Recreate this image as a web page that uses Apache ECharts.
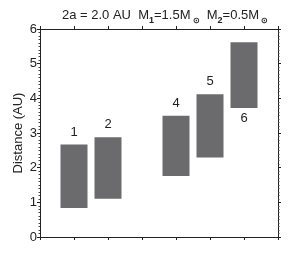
<!DOCTYPE html>
<html>
<head>
<meta charset="utf-8">
<script src="https://cdn.jsdelivr.net/npm/echarts@6/dist/echarts.min.js"></script>
<style>html,body{margin:0;padding:0;background:#fff}#c{width:307px;height:266px}</style>
</head>
<body>
<div id="c"></div>
<script>
const positions = [1, 2, 4, 5, 6];
const bottoms = [0.84, 1.10, 1.76, 2.29, 3.72];
const tops = [2.67, 2.88, 3.50, 4.12, 5.62];
const labels = ['1', '2', '4', '5', '6'];
const labelBelow = [0, 0, 0, 0, 1];
const yTicks = [0, 1, 2, 3, 4, 5, 6];

const chart = echarts.init(document.getElementById('c'), null, {renderer: 'canvas'});
const font = 'Liberation Sans, Arial, sans-serif';
const axisCommon = {
  axisLine: {show: true, onZero: false, lineStyle: {color: '#222', width: 1}},
  splitLine: {show: false}
};
const tick = {show: true, inside: false, length: 3, lineStyle: {color: '#222'}};
const minor = {show: true, splitNumber: 10, length: 1.5, lineStyle: {color: '#444'}};
chart.setOption({
  animation: false,
  title: {
    text: '{n|2a = 2.0 AU  M}{s|1}{n|=1.5M}{o|⊙}{n|  M}{s|2}{n|=0.5M}{o|⊙}',
    left: 160, top: 1, textAlign: 'center',
    textStyle: {
      rich: {
        n: {fontFamily: font, fontSize: 13, color: '#222', fontWeight: 'normal'},
        s: {fontFamily: font, fontSize: 9, color: '#222', verticalAlign: 'bottom', padding: [9, 0, 0, 0]},
        o: {fontFamily: font, fontSize: 8, color: '#222', verticalAlign: 'bottom', padding: [11, 0, 0, 2]}
      }
    }
  },
  grid: {left: 40, right: 29, top: 29, bottom: 29},
  xAxis: [{
    type: 'value', min: 0, max: 7, interval: 1, position: 'bottom',
    ...axisCommon, axisTick: tick, axisLabel: {show: false}
  }, {
    type: 'value', min: 0, max: 7, interval: 1, position: 'top',
    ...axisCommon, axisTick: tick, axisLabel: {show: false}
  }],
  yAxis: [{
    type: 'value', min: yTicks[0], max: yTicks[yTicks.length - 1], interval: 1, position: 'left',
    ...axisCommon, axisTick: tick, minorTick: minor,
    axisLabel: {show: true, fontFamily: font, fontSize: 13, color: '#222', margin: 3},
    name: 'Distance (AU)', nameLocation: 'middle', nameGap: 15, nameRotate: 90,
    nameMoveOverlap: false,
    nameTextStyle: {fontFamily: font, fontSize: 13, color: '#222'}
  }, {
    type: 'value', min: 0, max: 6, interval: 1, position: 'right',
    ...axisCommon, axisTick: tick, minorTick: minor, axisLabel: {show: false}
  }],
  series: [{
    type: 'custom',
    xAxisIndex: 0, yAxisIndex: 0,
    data: positions.map((p, i) => [p, bottoms[i], tops[i], labelBelow[i]]),
    encode: {x: 0, y: [1, 2]},
    renderItem: function (params, api) {
      const i = params.dataIndex;
      const x = api.value(0);
      const pTop = api.coord([x, api.value(2)]);
      const pBot = api.coord([x, api.value(1)]);
      const w = 27;
      const below = api.value(3) === 1;
      return {
        type: 'group',
        children: [{
          type: 'rect',
          shape: {x: pTop[0] - w / 2, y: pTop[1], width: w, height: pBot[1] - pTop[1]},
          style: {fill: '#6b6b6d'}
        }, {
          type: 'text',
          style: {
            text: labels[i], x: pTop[0], y: below ? pBot[1] + 4 : pTop[1] - 6,
            textAlign: 'center', textVerticalAlign: below ? 'top' : 'bottom',
            font: '13px ' + font, fill: '#222'
          }
        }]
      };
    }
  }]
});
</script>
</body>
</html>
